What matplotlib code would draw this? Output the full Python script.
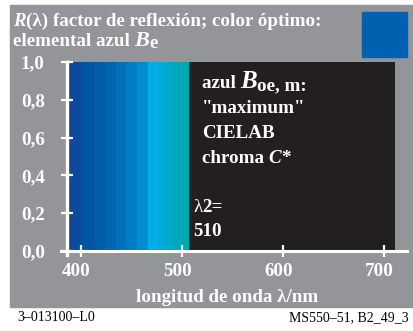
import numpy as np
import matplotlib
matplotlib.use('Agg')
import matplotlib.pyplot as plt
from matplotlib.colors import LinearSegmentedColormap
from matplotlib.patches import Rectangle
from matplotlib.transforms import ScaledTranslation

# bandas de color del espectro (nm) y sus colores
band_edges = [386, 400, 414, 425, 435, 445, 455, 466, 476]
band_colors = ['#0c4a9d', '#0055a5', '#005eab', '#0066b1', '#0070b9',
               '#007dc4', '#008cd1', '#00aeea']
grad_range = [476, 506]          # tramo con degradado cian -> turquesa
grad_colors = ['#00acde', '#00a8a6']

x_ticks = [400, 500, 600, 700]
y_ticks = [0.0, 0.2, 0.4, 0.6, 0.8, 1.0]
y_ticklabels = ['0,0', '0,2', '0,4', '0,6', '0,8', '1,0']

W, H = 413, 331
GRAY = '#939598'
BLACK = '#231f20'
FS = 13.7

plt.rcParams['font.family'] = ['Liberation Serif', 'DejaVu Serif']

fig = plt.figure(figsize=(W / 100, H / 100), dpi=100)
fig.patch.set_facecolor('white')

# panel gris de fondo
fig.patches.append(Rectangle((10 / W, 1 - 307 / H), 403 / W, 302 / H,
                             transform=fig.transFigure, color=GRAY, zorder=0))
# cuadrado azul arriba a la derecha
fig.patches.append(Rectangle((362 / W, 1 - 56.5 / H), 45 / W, 45 / H,
                             transform=fig.transFigure, color='#0061b0', zorder=1))

ax = fig.add_axes([67 / W, 1 - 251 / H, 328 / W, 189 / H])
ax.set_zorder(3)
ax.set_facecolor(BLACK)
ax.set_xlim(386.1, 710.9)
ax.set_ylim(0, 1)

for x0, x1, c in zip(band_edges[:-1], band_edges[1:], band_colors):
    ax.axvspan(x0, x1, color=c, lw=0)
cmap = LinearSegmentedColormap.from_list('g', grad_colors)
ax.imshow(np.linspace(0, 1, 64)[None, :], cmap=cmap, aspect='auto',
          extent=[grad_range[0], grad_range[1], 0, 1], zorder=1)
ax.set_xlim(386.1, 710.9)
ax.set_ylim(0, 1)

for s in ax.spines.values():
    s.set_visible(False)
# ejes blancos, un poco más largos que el área
ax.plot([380, 723], [0, 0], color='white', lw=2.2, clip_on=False, zorder=5)
ax.plot([386.1, 386.1], [-0.021, 1.0], color='white', lw=2.4, clip_on=False, zorder=5)

ax.set_xticks(x_ticks)
ax.set_yticks(y_ticks)
ax.set_yticklabels(y_ticklabels)
ax.tick_params(axis='both', direction='inout', length=8, width=1.6,
               color='white', labelcolor='white', labelsize=FS)
ax.tick_params(axis='y', pad=12)
ax.tick_params(axis='x', pad=5)
for lab in ax.get_xticklabels() + ax.get_yticklabels():
    lab.set_fontweight('bold')
for lab in ax.get_xticklabels():
    lab.set_transform(lab.get_transform() + ScaledTranslation(-0.045, 0, fig.dpi_scale_trans))

renderer = fig.canvas.get_renderer()


def runs(x, y, parts, color='white'):
    # texto en trozos: (texto, tamaño, estilo, peso, desplazamiento vertical px)
    for s, size, style, weight, dy in parts:
        t = fig.text(x / W, 1 - (y + dy) / H, s, fontsize=size, style=style,
                     weight=weight, color=color, va='baseline', ha='left', zorder=10)
        bb = t.get_window_extent(renderer)
        x = bb.x1


runs(13, 26, [('R', FS, 'italic', 'bold', 0),
              ('(λ) factor de reflexión; color óptimo:', FS, 'normal', 'bold', 0)])
runs(13, 46, [('elemental azul ', FS, 'normal', 'bold', 0),
              ('B', 16, 'italic', 'bold', 0),
              ('e', FS, 'normal', 'bold', 2)])

runs(202, 88, [('azul ', FS, 'normal', 'bold', 0),
               ('B', 18, 'italic', 'bold', 0),
               ('oe, m:', FS, 'normal', 'bold', 2)])
runs(202, 113, [('"maximum"', FS, 'normal', 'bold', 0)])
runs(202, 138, [('CIELAB', FS, 'normal', 'bold', 0)])
runs(202, 163, [('chroma ', FS, 'normal', 'bold', 0),
                ('C', FS, 'italic', 'bold', 0),
                ('*', FS, 'normal', 'bold', 0)])
runs(193, 212, [('λ', FS, 'normal', 'normal', 0),
                ('2=', FS, 'normal', 'bold', 0)])
runs(193, 236, [('510', FS, 'normal', 'bold', 0)])

fig.text(227.5 / W, 1 - 302 / H, 'longitud de onda λ/nm', fontsize=FS,
         weight='bold', color='white', ha='center', va='baseline')

fig.text(17 / W, 1 - 321 / H, '3–013100–L0', fontsize=10, color='black',
         ha='left', va='baseline')
fig.text(409 / W, 1 - 321 / H, 'MS550–51, B2_49_3', fontsize=10, color='black',
         ha='right', va='baseline')

fig.savefig('out.png', dpi=100, facecolor=fig.get_facecolor())
